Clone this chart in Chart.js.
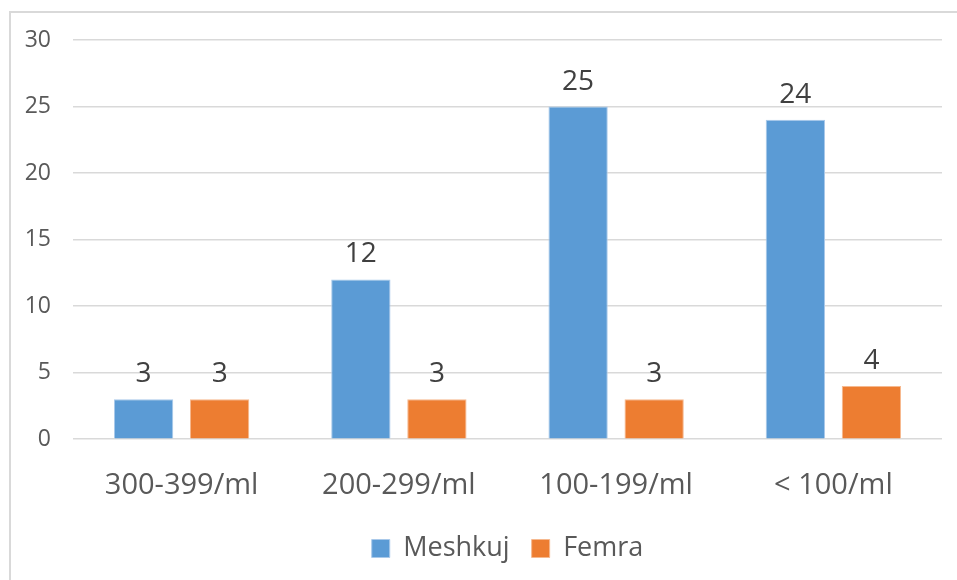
<!DOCTYPE html>
<html>
<head>
<meta charset="utf-8">
<script src="https://cdn.jsdelivr.net/npm/chart.js@4/dist/chart.umd.min.js"></script>
<style>
    html, body { margin: 0; padding: 0; background: #fff; }
    #wrap { position: relative; width: 957px; height: 580px; }
    #frame { position: absolute; left: 9px; top: 11px; right: 0; bottom: 0;
             border-left: 2px solid #d9d9d9; border-top: 2px solid #d9d9d9; }
    canvas { position: absolute; left: 0; top: 0; }
</style>
</head>
<body>
<div id="wrap">
    <div id="frame"></div>
    <canvas id="myChart" width="957" height="580"></canvas>
</div>
<script>
/**------------------------------------------------------------------------------------------------  DATA  */
const categories = ['300-399/ml', '200-299/ml', '100-199/ml', '< 100/ml'];
const meshkuj = [3, 12, 25, 24];
const femra = [3, 3, 3, 4];
const yTicks = [0, 5, 10, 15, 20, 25, 30];

// draws the value above every bar
const barValues = {
    id: 'barValues',
    afterDatasetsDraw: (chart) => {
        const ctx = chart.ctx;
        ctx.save();
        ctx.font = '28px "Open Sans"';
        ctx.fillStyle = '#404040';
        ctx.textAlign = 'center';
        ctx.textBaseline = 'bottom';
        chart.data.datasets.forEach((ds, i) => {
            chart.getDatasetMeta(i).data.forEach((bar, j) => {
                ctx.fillText(ds.data[j], bar.x, bar.y - 11);
            });
        });
        ctx.restore();
    }
};

const data = {
    labels: categories,
    datasets: [{
        label: 'Meshkuj',
        data: meshkuj,
        backgroundColor: '#5b9bd5',
        borderColor: '#a9c9ea',
        borderWidth: 1,
        categoryPercentage: 0.7,
        barPercentage: 0.78
    }, {
        label: 'Femra',
        data: femra,
        backgroundColor: '#ed7d31',
        borderColor: '#f6b98f',
        borderWidth: 1,
        categoryPercentage: 0.7,
        barPercentage: 0.78
    }]
};

const config = {
    type: 'bar',
    data,
    plugins: [barValues],
    options: {
        responsive: false,
        animation: false,
        layout: {
            padding: { top: 40, right: 15, left: 0, bottom: 8 }
        },
        scales: {
            x: {
                grid: { display: false },
                border: { display: false },
                afterFit: (axis) => {
                    axis.height = axis.height - 11;
                },
                ticks: {
                    color: '#595959',
                    padding: 21,
                    font: { family: '"Open Sans"', size: 29 }
                }
            },
            y: {
                min: 0,
                max: 30,
                afterBuildTicks: (axis) => {
                    axis.ticks = yTicks.map(v => ({ value: v }));
                },
                afterFit: (axis) => {
                    axis.width = 73;
                },
                grid: {
                    color: '#d9d9d9',
                    lineWidth: 1.5,
                    drawTicks: false
                },
                border: { display: false },
                ticks: {
                    color: '#595959',
                    padding: 22,
                    font: { family: '"Open Sans"', size: 23 }
                }
            }
        },
        plugins: {
            legend: {
                display: true,
                position: 'bottom',
                fullSize: false,
                labels: {
                    color: '#595959',
                    boxWidth: 18,
                    boxHeight: 18,
                    padding: 22,
                    font: { family: '"Open Sans"', size: 27 }
                }
            },
            tooltip: { enabled: false }
        }
    }
};

new Chart(document.getElementById('myChart'), config);
</script>
</body>
</html>
